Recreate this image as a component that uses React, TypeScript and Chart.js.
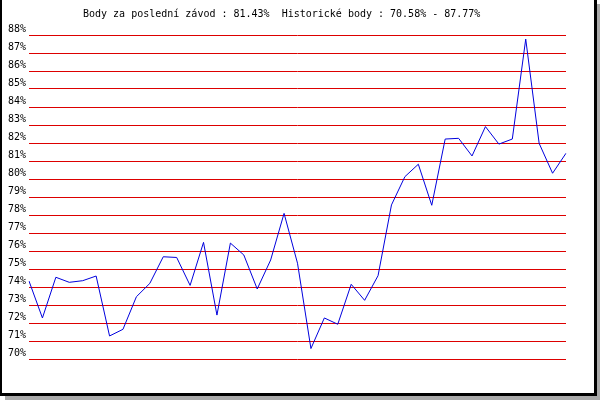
import React, { useEffect, useRef } from "react";
import { Chart, registerables } from "chart.js";

Chart.register(...registerables);

const races: string[] = Array.from({ length: 41 }, (_, i) => String(i + 1));
const points: number[] = [
  74.33, 72.28, 74.54, 74.26, 74.35, 74.61, 71.28, 71.65, 73.46, 74.2,
  75.68, 75.64, 74.09, 76.48, 72.44, 76.44, 75.78, 73.89, 75.5, 78.09,
  75.32, 70.58, 72.28, 71.93, 74.15, 73.26, 74.63, 78.56, 80.13, 80.82,
  78.54, 82.22, 82.26, 81.28, 82.91, 81.94, 82.22, 87.77, 81.98, 80.32,
  81.43,
];
const yMin = 70;
const yMax = 88;
const titleText = "Body za poslední závod : 81.43%  Historické body : 70.58% - 87.77%";

const FONT = '"DejaVu Sans Mono", "Liberation Mono", monospace';

const framePlugin = {
  id: "frame",
  beforeDraw(chart: any) {
    const ctx = chart.ctx;
    ctx.save();
    ctx.fillStyle = "#aaaaaa";
    ctx.fillRect(5, 4, 595, 396);
    ctx.fillStyle = "#000000";
    ctx.fillRect(0, 0, 597, 396);
    ctx.fillStyle = "#ffffff";
    ctx.fillRect(2, 0, 592, 393);
    ctx.restore();
  },
  afterDraw(chart: any) {
    const ctx = chart.ctx;
    ctx.save();
    ctx.fillStyle = "#000000";
    ctx.font = "10px " + FONT;
    ctx.textAlign = "left";
    ctx.textBaseline = "alphabetic";
    ctx.fillText(titleText, 83, 17);
    ctx.restore();
  },
};

export default function App() {
  const ref = useRef<HTMLCanvasElement | null>(null);
  useEffect(() => {
    if (!ref.current) return;
    const chart = new Chart(ref.current, {
      type: "line",
      data: {
        labels: races,
        datasets: [
          {
            data: points,
            borderColor: "#0000dd",
            borderWidth: 1,
            pointRadius: 0,
            tension: 0,
            fill: false,
          },
        ],
      },
      options: {
        animation: false,
        responsive: false,
        devicePixelRatio: 1,
        layout: { padding: { left: 0, top: 35, right: 34, bottom: 41 } },
        plugins: {
          legend: { display: false },
          title: { display: false },
          tooltip: { enabled: false },
        },
        scales: {
          x: {
            type: "category",
            offset: false,
            display: false,
          },
          y: {
            min: yMin,
            max: yMax,
            afterFit(scale: any) {
              scale.width = 29;
            },
            border: { display: false },
            grid: {
              color: "#dd0000",
              lineWidth: 1,
              drawTicks: false,
            },
            ticks: {
              stepSize: 1,
              padding: 3,
              labelOffset: -6,
              color: "#000000",
              font: { family: FONT, size: 10 },
              callback: (v: any) => v + "%",
            },
          },
        },
      },
      plugins: [framePlugin],
    });
    return () => chart.destroy();
  }, []);
  return (
    <div style={{ position: "absolute", left: 0, top: 0, width: 600, height: 400 }}>
      <canvas ref={ref} width={600} height={400} style={{ display: "block" }} />
    </div>
  );
}
